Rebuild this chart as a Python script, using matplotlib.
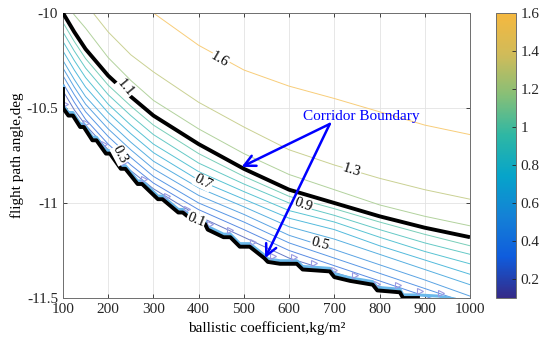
import numpy as np
import matplotlib
matplotlib.use("Agg")
import matplotlib.pyplot as plt
from matplotlib.colors import LinearSegmentedColormap, Normalize
from matplotlib.cm import ScalarMappable
from matplotlib.patches import Polygon

plt.rcParams["font.family"] = ["Liberation Serif", "DejaVu Serif"]
plt.rcParams["axes.unicode_minus"] = False

# =========================
# DATA
# =========================
# ballistic coefficient samples shared by every contour curve
bc = [100, 125, 150, 200, 250, 300, 400, 500, 600, 700, 800, 900, 1000]

# flight path angle of each contour level at the bc positions
y_02 = [-10.41, -10.51, -10.59, -10.72, -10.83, -10.925, -11.07, -11.18, -11.29, -11.365, -11.44, -11.52, -11.60]
y_03 = [-10.37, -10.47, -10.56, -10.69, -10.80, -10.895, -11.035, -11.14, -11.25, -11.33, -11.41, -11.49, -11.57]
y_04 = [-10.33, -10.43, -10.52, -10.65, -10.76, -10.86, -11.00, -11.10, -11.21, -11.29, -11.37, -11.45, -11.53]
y_05 = [-10.29, -10.39, -10.48, -10.61, -10.72, -10.82, -10.96, -11.06, -11.17, -11.245, -11.325, -11.405, -11.49]
y_06 = [-10.25, -10.35, -10.44, -10.57, -10.68, -10.78, -10.92, -11.02, -11.125, -11.19, -11.27, -11.35, -11.43]
y_07 = [-10.20, -10.30, -10.39, -10.525, -10.635, -10.735, -10.88, -10.98, -11.08, -11.14, -11.225, -11.30, -11.375]
y_08 = [-10.15, -10.25, -10.34, -10.48, -10.59, -10.69, -10.835, -10.94, -11.04, -11.10, -11.18, -11.255, -11.32]
y_09 = [-10.10, -10.20, -10.29, -10.43, -10.54, -10.64, -10.79, -10.90, -11.00, -11.065, -11.14, -11.21, -11.27]
y_10 = [-10.05, -10.15, -10.24, -10.38, -10.49, -10.59, -10.74, -10.86, -10.965, -11.03, -11.10, -11.165, -11.225]
y_11 = [-10.00, -10.10, -10.19, -10.33, -10.44, -10.54, -10.69, -10.82, -10.93, -11.00, -11.07, -11.13, -11.18]
y_12 = [-9.93, -10.01, -10.08, -10.235, -10.355, -10.46, -10.61, -10.74, -10.85, -10.93, -11.01, -11.07, -11.12]
y_13 = [-9.72, -9.85, -9.95, -10.10, -10.22, -10.31, -10.47, -10.60, -10.72, -10.80, -10.87, -10.93, -10.98]
y_16 = [-9.40, -9.55, -9.65, -9.80, -9.90, -10.00, -10.17, -10.30, -10.385, -10.45, -10.52, -10.59, -10.64]

levels = [0.2, 0.3, 0.4, 0.5, 0.6, 0.7, 0.8, 0.9, 1.0, 1.2, 1.3, 1.6]
curves = [y_02, y_03, y_04, y_05, y_06, y_07, y_08, y_09, y_10, y_12, y_13, y_16]

# lower corridor boundary (stair-stepped)
bnd_x = [100, 100, 112, 122, 138, 146, 165, 174, 195, 204, 228, 238, 265, 275, 310, 320,
         355, 365, 396, 414, 420, 455, 470, 491, 513, 545, 553, 580, 617, 630, 690, 700,
         735, 785, 795, 845, 852, 885]
bnd_y = [-10.40, -10.50, -10.54, -10.54, -10.60, -10.60, -10.67, -10.67, -10.74, -10.74,
         -10.82, -10.82, -10.90, -10.90, -10.98, -10.98, -11.05, -11.05, -11.11, -11.11,
         -11.14, -11.18, -11.18, -11.23, -11.23, -11.29, -11.31, -11.32, -11.32, -11.35,
         -11.36, -11.39, -11.41, -11.43, -11.46, -11.47, -11.50, -11.50]

# small triangle artefacts along the boundary
tri_x = [105, 150, 190, 235, 280, 330, 375, 425, 470, 520, 565, 610, 655, 700, 745, 795,
         840, 890, 935]

# contour labels: text, x, y, rotation
lab_txt = ["1.6", "1.3", "1.1", "0.9", "0.7", "0.5", "0.3", "0.1"]
lab_x = [447, 739, 237, 631, 410, 668, 226, 394]
lab_y = [-10.247, -10.826, -10.395, -11.01, -10.89, -11.216, -10.747, -11.09]
lab_rot = [-30, -17, -50, -20, -27, -15, -62, -22]

# parula-like colour map
cmap = LinearSegmentedColormap.from_list(
    "parula_like",
    ["#352a87", "#0f5cdd", "#1481d6", "#06a4ca", "#2eb7a4", "#87bf77", "#d1bb59", "#f5b83f"])
norm = Normalize(vmin=0.1, vmax=1.6)


def light(c, k=0.3):
    # thin MATLAB contour lines look paler than the colorbar
    return tuple(v + (1 - v) * k for v in c[:3])


# =========================
# PLOT
# =========================
fig = plt.figure(figsize=(5.5, 3.51), dpi=100)
ax = fig.add_axes([0.1145, 0.151, 0.74, 0.812])

# region above the corridor boundary, used to clip the contour lines
clip_verts = list(zip(bnd_x, bnd_y)) + [(960, -11.52), (1000, -11.6), (1000, -9.0), (100, -9.0)]
clip_patch = Polygon(clip_verts, closed=True, transform=ax.transData,
                     facecolor="none", edgecolor="none")

for lev, yy in zip(levels, curves):
    ln, = ax.plot(bc, yy, color=light(cmap(norm(lev))), lw=0.7, zorder=2)
    ln.set_clip_path(clip_patch)

# upper corridor boundary (1.1 contour)
ax.plot(bc, y_11, color="black", lw=2.8, zorder=4, solid_capstyle="butt")

# 0.1 contour band + lower corridor boundary
band_x = bnd_x + [930, 965]
band_y = [v + 0.016 for v in bnd_y] + [-11.49, -11.505]
ax.plot(band_x, band_y, color="#6ab8ea", lw=2.2, zorder=3)
ax.plot(bnd_x, bnd_y, color="black", lw=2.8, zorder=4)
tri_y = np.interp(tri_x, band_x, band_y) + 0.02
ax.plot(tri_x, tri_y, ls="none", marker=">", ms=4.5, mfc="none",
        mec="#9a9ae2", mew=0.8, zorder=3)

for t, x, y, r in zip(lab_txt, lab_x, lab_y, lab_rot):
    ax.text(x, y, t, fontsize=10.5, rotation=r, ha="center", va="center",
            rotation_mode="anchor", zorder=6,
            bbox=dict(facecolor="white", edgecolor="none", pad=0.3))

# annotation
ax.text(759, -10.547, "Corridor Boundary", color="blue", fontsize=11,
        ha="center", va="center", zorder=7)
for tx, ty in [(495, -10.81), (547, -11.29)]:
    ax.annotate("", xy=(tx, ty), xytext=(690, -10.584),
                arrowprops=dict(arrowstyle="->", color="blue", lw=1.8,
                                mutation_scale=20, shrinkA=0, shrinkB=0),
                zorder=7)

ax.set_xlim(100, 1000)
ax.set_ylim(-11.5, -10)
ax.set_xticks(range(100, 1001, 100))
ax.set_yticks([-11.5, -11, -10.5, -10])
ax.set_yticklabels(["-11.5", "-11", "-10.5", "-10"])
ax.grid(True, color="#e3e3e3", lw=0.6)
ax.set_axisbelow(True)
ax.tick_params(direction="in", top=True, right=True, length=3, width=0.6,
               labelsize=11, colors="#262626")
for s in ax.spines.values():
    s.set_color("#6e6e6e")
    s.set_linewidth(0.7)
ax.set_xlabel("ballistic coefficient,kg/m²", fontsize=11, labelpad=4)
ax.set_ylabel("flight path angle,deg", fontsize=11, labelpad=2)

# colorbar
cax = fig.add_axes([0.9018, 0.151, 0.0364, 0.812])
cb = fig.colorbar(ScalarMappable(norm=norm, cmap=cmap), cax=cax,
                  ticks=[0.2, 0.4, 0.6, 0.8, 1.0, 1.2, 1.4, 1.6])
cb.ax.set_yticklabels(["0.2", "0.4", "0.6", "0.8", "1", "1.2", "1.4", "1.6"])
cb.ax.tick_params(direction="in", length=3, width=0.6, labelsize=11, colors="#262626")
cb.outline.set_edgecolor("#6e6e6e")
cb.outline.set_linewidth(0.7)

fig.savefig("out.png", dpi=100)
